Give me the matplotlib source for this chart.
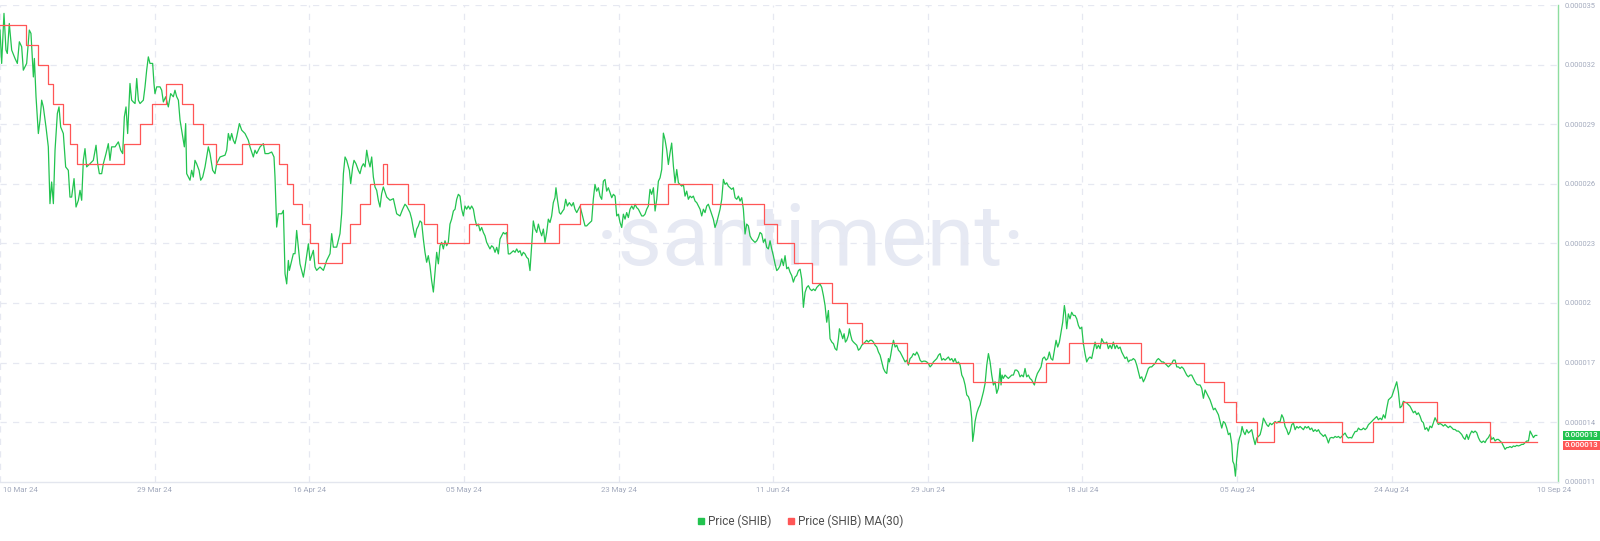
import matplotlib
matplotlib.use("Agg")
import matplotlib.pyplot as plt
from matplotlib.lines import Line2D
import matplotlib.transforms as mtransforms

SCALE = 1e-6  # prices below are in units of 0.000001

# ---- Price (SHIB): day offset from 10 Mar 24, price (x 1e-6) ----
days = [
 0.00,0.20,0.48,0.72,0.88,1.12,1.41,1.81,2.09,2.33,2.61,2.81,3.21,3.53,3.73,4.02,4.14,4.34,4.62,4.82,
 5.02,5.22,5.54,5.82,6.02,6.22,6.43,6.63,6.91,7.11,7.31,7.63,7.91,8.23,8.43,8.63,8.92,9.16,9.44,9.64,
 9.84,10.04,10.24,10.44,10.84,11.24,11.57,11.77,11.97,12.25,12.45,12.77,13.05,13.25,13.45,13.86,14.26,14.54,14.78,14.98,
 15.18,15.38,15.66,15.86,16.06,16.27,16.47,16.67,16.87,17.27,17.47,17.67,17.87,18.07,18.39,18.55,18.67,18.88,19.28,19.48,
 19.68,19.96,20.28,20.56,20.88,21.08,21.29,21.49,21.69,22.01,22.21,22.37,22.49,22.69,22.89,23.09,23.29,23.49,23.69,23.98,
 24.18,24.42,24.70,24.90,25.10,25.30,25.62,25.90,26.10,26.51,27.11,27.31,27.51,27.71,27.91,28.11,28.31,28.51,28.84,29.12,
 29.52,29.92,30.12,30.52,30.72,30.92,31.33,31.73,31.93,32.33,32.73,33.01,33.13,33.25,33.33,33.53,33.94,34.14,34.34,34.54,
 34.74,34.86,35.34,35.54,35.74,35.94,36.14,36.55,36.75,37.15,37.35,37.75,37.95,38.15,38.55,38.96,39.36,39.76,39.96,40.16,
 40.56,40.96,41.16,41.37,41.57,41.77,42.09,42.25,42.49,42.65,42.89,43.17,43.37,43.57,43.78,43.98,44.18,44.38,44.58,44.78,
 44.98,45.18,45.38,45.58,45.78,45.98,46.18,46.59,46.99,47.39,47.79,
 48.19,48.51,48.79,48.99,49.19,49.39,49.60,49.80,50.00,50.20,50.40,50.60,50.80,51.00,51.20,51.40,51.60,51.80,52.00,52.21,
 52.41,52.61,52.81,53.01,53.21,53.41,53.61,53.81,54.01,54.21,54.41,54.62,54.82,55.02,55.22,55.42,55.62,55.82,56.02,56.22,
 56.42,56.62,56.82,57.03,57.23,57.43,57.63,57.83,58.03,58.23,58.43,58.63,58.83,59.03,59.23,59.44,59.64,59.84,60.04,60.24,
 60.44,60.64,60.84,61.04,61.24,61.44,61.65,61.85,62.05,62.25,62.45,62.65,62.85,63.05,63.25,63.45,63.65,63.85,64.05,64.25,
 64.46,64.66,64.86,65.06,65.26,65.46,65.66,65.86,66.06,66.26,66.46,66.66,66.86,66.98,67.15,67.39,67.55,67.79,67.95,68.15,
 68.35,68.59,68.87,69.07,69.27,69.48,69.68,69.88,70.08,70.28,70.48,70.68,70.88,71.08,71.28,71.48,71.68,71.88,72.09,
 72.29,72.49,72.69,72.89,73.09,73.29,73.49,73.70,73.90,74.10,74.30,74.50,74.70,74.90,75.10,75.30,75.50,75.70,75.90,76.11,
 76.31,76.51,76.71,76.91,77.11,77.31,77.51,77.71,77.91,78.11,78.31,78.51,78.72,78.92,79.12,79.32,79.52,79.72,79.92,80.12,
 80.32,80.52,80.72,80.92,81.13,81.33,81.53,81.73,81.93,82.13,82.33,82.53,82.73,82.93,83.13,83.33,83.53,83.74,83.94,84.14,
 84.34,84.54,84.74,84.94,85.14,85.34,85.54,85.74,85.94,86.14,86.35,86.55,86.75,86.95,87.15,87.35,87.55,87.75,87.95,88.15,
 88.35,88.56,88.76,88.96,89.16,89.36,89.56,89.76,89.96,90.16,90.36,90.56,90.76,90.96,91.17,91.37,91.57,91.77,91.97,92.17,
 92.37,92.57,92.77,92.97,93.17,93.37,93.58,93.78,93.98,94.18,94.38,94.58,94.78,94.98,95.18,95.38,95.58,95.78,95.98,96.19,
 96.39,96.59,96.79,96.99,97.19,97.39,97.59,97.80,98.00,98.20,98.40,98.60,98.80,99.00,99.20,99.40,99.60,99.80,100.00,100.21,
 100.41,100.61,100.81,101.01,101.13,101.29,101.53,101.69,101.85,102.01,102.21,102.33,102.49,102.65,102.82,103.02,103.22,103.42,103.62,103.82,
 104.02,104.22,104.42,104.62,104.82,105.02,105.23,105.43,105.63,105.83,106.03,106.23,106.43,106.63,106.83,107.03,107.15,107.31,107.47,107.64,
 107.84,108.04,108.24,108.44,108.64,108.84,109.04,109.24,109.44,109.64,109.84,110.04,110.25,110.45,110.65,110.85,111.05,111.25,111.45,111.65,
 111.85,112.05,112.25,112.45,112.66,112.86,113.06,113.26,113.46,113.66,113.86,114.06,114.26,114.46,114.66,114.86,115.06,115.27,115.47,115.67,
 115.87,116.07,116.27,116.47,116.67,116.87,117.07,117.19,117.35,117.47,117.68,117.88,118.08,118.28,118.48,118.68,118.88,119.08,119.28,119.48,
 119.68,119.88,120.08,120.28,
 120.48,120.60,120.72,120.88,121.08,121.28,121.48,121.68,121.89,122.09,122.29,122.49,122.69,122.89,123.09,123.29,123.49,123.69,123.89,124.09,
 124.30,124.50,124.62,124.78,124.98,125.22,125.42,125.62,125.82,126.02,126.22,126.42,126.62,126.83,127.03,127.23,127.43,127.63,127.83,128.03,
 128.23,128.35,128.51,128.71,128.91,129.11,129.32,129.52,129.72,129.92,130.12,130.32,130.52,130.72,130.92,131.12,131.32,131.52,131.73,131.93,
 132.13,132.33,132.53,132.73,132.93,133.13,133.33,133.53,133.73,133.93,134.13,134.34,134.54,134.74,134.94,135.14,135.34,135.54,135.74,135.94,
 136.14,136.34,136.54,136.75,136.95,137.15,137.35,137.55,137.75,137.95,138.15,138.35,138.55,138.75,138.95,139.16,139.36,139.56,139.76,139.96,
 140.16,140.36,140.56,140.76,140.96,141.16,141.36,141.57,141.77,141.97,142.17,142.37,142.57,142.77,142.97,143.17,143.37,143.57,143.77,143.97,
 144.18,144.38,
 144.58,144.78,144.98,145.18,145.38,145.58,145.78,145.99,146.19,146.39,146.59,146.79,146.99,147.19,147.39,147.59,147.79,147.99,148.19,148.40,
 148.52,148.68,148.84,149.00,149.16,149.32,149.48,149.64,149.80,150.00,150.20,150.40,150.60,150.80,151.01,151.21,151.41,151.61,151.81,152.01,
 152.21,152.41,152.61,152.81,153.01,153.21,153.41,153.62,153.82,154.02,154.22,154.42,154.62,154.82,155.02,155.22,155.42,155.62,155.82,156.03,
 156.23,156.43,156.63,156.83,157.03,157.23,157.43,157.63,157.83,158.03,158.23,158.44,158.64,158.84,159.04,159.24,159.44,159.64,159.84,160.04,
 160.24,160.44,160.64,160.85,161.05,161.25,161.45,161.65,161.85,162.05,162.25,162.45,162.65,162.85,163.05,163.26,163.46,163.66,163.86,164.06,
 164.26,164.46,164.66,164.86,165.06,165.26,165.46,165.66,165.86,166.06,166.27,166.47,166.67,166.87,167.07,167.27,167.47,167.67,167.87,168.07,
 168.27,168.47,
 168.67,168.87,169.07,169.27,169.47,169.67,169.87,170.08,170.28,170.48,170.68,170.88,171.08,171.28,171.48,171.68,171.88,172.08,172.28,172.49,
 172.69,172.89,173.09,173.29,173.49,173.69,173.89,174.09,174.29,174.49,174.69,174.90,175.10,175.30,175.50,175.70,175.90,176.10,176.30,176.50,
 176.70,176.90,177.10,177.31,177.51,177.71,177.91,178.11,178.31,178.51,178.71,178.91,179.11,179.31,179.51,179.71,179.92,180.12,180.32,180.52,
 180.72,180.92,181.12,181.32,181.52,181.72,181.92,182.12,182.33,182.53,182.73,182.93,183.13,183.33,183.53,183.73,183.94,184.14,184.34,184.54,
 184.74,184.94,185.14,
]
price = [
 33.74,32.06,34.58,32.73,32.56,34.07,32.73,32.31,32.06,33.15,32.90,31.72,32.06,33.74,33.57,31.38,32.31,30.38,28.53,29.20,
 30.21,29.87,28.86,27.86,25.00,26.09,25.00,27.69,29.54,29.87,28.86,28.53,26.85,26.68,25.33,25.33,26.26,24.83,25.17,25.67,
 25.17,27.18,27.77,26.85,27.01,27.18,27.94,27.01,26.51,26.51,27.01,27.52,28.02,27.18,27.86,27.86,28.11,27.69,27.52,29.37,
 29.87,28.53,31.05,30.21,30.12,30.04,31.30,30.21,30.04,30.21,30.88,31.72,32.39,32.06,32.06,31.05,30.54,30.88,30.88,30.71,
 30.12,30.38,29.87,30.54,30.38,30.71,30.38,30.21,29.20,28.36,27.86,29.03,26.51,26.34,26.18,26.68,26.34,27.18,27.01,26.68,
 26.18,26.34,26.85,27.35,27.86,27.52,26.68,26.51,27.01,27.35,27.44,27.69,28.53,28.19,28.53,28.19,28.02,28.36,29.03,28.70,
 28.53,28.19,27.86,27.35,27.69,27.52,27.86,28.02,27.52,27.52,27.60,27.35,26.34,24.83,23.82,24.49,24.49,24.66,21.47,20.96,
 22.14,21.64,22.48,22.48,23.65,22.81,21.97,21.30,21.81,22.98,22.14,22.65,21.81,21.64,21.81,21.64,22.14,22.48,23.49,22.81,
 22.81,23.49,24.49,26.51,27.35,27.18,26.68,26.01,26.85,27.18,27.01,26.68,26.51,26.85,27.01,26.85,27.69,27.18,26.85,27.35,
 26.34,25.84,25.67,25.17,24.83,25.50,25.84,25.33,25.17,25.25,24.49,
 24.38,24.72,24.97,24.88,24.72,24.55,24.22,23.72,23.30,23.72,23.88,24.13,24.05,23.22,22.55,22.05,22.38,21.88,21.13,20.55,
 21.55,22.55,21.97,22.88,23.05,22.72,23.13,22.88,23.05,23.97,24.22,24.63,24.72,25.22,25.47,25.38,24.72,24.38,24.88,24.72,
 24.88,24.72,24.88,24.72,24.22,23.88,23.97,23.63,23.80,23.55,23.38,23.05,22.88,22.72,22.88,22.80,22.55,22.80,22.47,23.22,
 23.38,23.55,23.47,23.55,22.47,22.47,22.55,22.63,22.55,22.72,22.55,22.63,22.38,22.55,22.47,22.30,22.22,21.63,22.88,24.13,
 23.72,23.55,23.97,23.63,23.38,23.72,23.05,23.55,24.22,24.05,24.38,25.05,25.30,25.80,25.22,24.55,24.47,24.63,24.72,25.22,
 24.88,25.05,24.88,25.05,24.72,24.55,24.72,24.88,24.55,24.22,23.88,23.88,23.97,24.05,24.13,25.22,25.97,25.63,25.80,
 25.38,25.22,26.13,26.22,25.63,25.80,25.55,25.30,25.47,25.38,24.38,24.47,24.05,23.80,24.47,24.22,24.55,24.30,24.72,24.88,
 24.72,24.97,24.80,24.72,24.55,24.38,24.38,24.47,24.72,24.88,25.72,25.47,25.80,24.63,25.22,26.13,26.30,26.72,28.55,28.22,
 27.72,26.97,27.55,28.05,26.88,26.05,26.72,26.05,25.97,25.88,25.97,25.38,25.63,25.22,25.38,25.30,25.38,25.13,25.05,24.88,
 24.72,24.38,24.72,24.55,24.88,24.97,24.72,24.47,24.22,23.80,24.05,24.38,24.72,25.22,26.22,25.97,26.05,25.88,25.80,25.72,
 25.80,25.30,25.22,25.38,25.13,25.30,24.72,23.47,23.97,23.88,23.38,23.22,23.13,23.05,23.13,23.30,23.55,23.47,23.05,23.22,
 22.80,22.72,23.13,22.72,22.38,21.97,21.63,21.72,21.88,22.22,21.88,22.38,21.72,21.80,21.55,21.38,21.05,21.30,21.38,21.63,
 21.70,21.20,19.78,20.53,20.78,20.87,20.70,20.62,20.70,20.62,20.78,20.87,20.95,20.78,20.37,19.87,19.03,19.62,18.20,18.03,
 17.95,17.70,17.62,18.20,18.70,18.53,18.20,18.45,18.03,18.12,18.37,18.70,18.37,18.12,18.03,17.95,17.87,17.62,17.70,17.87,
 17.95,18.03,18.12,18.03,18.12,18.12,18.03,17.87,17.78,17.53,17.37,17.03,16.70,16.53,16.45,17.20,17.03,17.37,17.78,18.12,
 17.78,17.87,17.62,17.53,17.37,17.20,17.03,17.12,16.87,17.20,17.28,17.45,17.37,17.53,17.37,17.12,17.03,17.07,17.07,17.03,
 16.95,16.78,16.87,17.03,17.12,17.20,17.37,17.45,17.12,17.20,17.12,17.20,17.28,17.12,17.20,17.03,17.20,16.95,17.03,16.87,
 16.37,16.20,15.87,15.37,15.28,15.03,14.20,13.03,13.53,14.03,14.45,14.70,14.87,15.20,15.53,15.95,16.87,17.45,17.03,16.37,
 15.87,16.03,15.45,15.70,
 16.70,15.87,16.37,16.20,16.37,16.28,16.20,16.28,16.37,16.37,16.62,16.62,16.53,16.28,16.37,16.28,16.70,16.28,16.37,16.20,
 16.12,15.95,15.87,16.20,16.45,16.62,16.78,17.20,17.28,17.12,17.20,17.53,17.20,17.12,17.62,18.12,17.78,18.03,18.53,19.03,
 19.87,19.53,18.70,19.45,19.20,19.53,19.37,19.37,19.20,18.87,18.70,18.78,17.95,17.45,17.03,17.20,17.28,17.20,17.62,18.03,
 17.70,17.87,17.70,18.20,18.03,17.95,18.03,17.70,17.87,17.70,18.03,17.70,17.87,17.70,17.78,17.53,17.37,17.20,17.28,17.03,
 17.12,17.12,17.20,17.12,16.87,16.53,16.20,16.28,16.03,16.20,16.45,16.70,16.78,16.78,16.87,16.95,17.12,17.20,17.12,17.03,
 17.03,16.95,16.87,16.78,16.87,16.95,17.12,17.12,16.78,16.78,16.70,16.78,16.70,16.53,16.37,16.28,16.37,16.37,16.20,16.03,
 15.90,15.87,
 15.87,15.70,15.20,15.62,15.45,15.28,15.12,14.87,14.62,14.70,14.53,14.37,14.03,13.70,14.03,13.95,13.70,13.37,13.45,12.87,
 12.03,11.87,11.28,12.20,12.87,13.20,13.37,13.78,13.53,13.37,13.62,13.45,13.53,13.62,13.20,12.87,13.20,13.28,13.37,13.70,
 14.20,14.03,13.87,13.78,13.95,13.87,13.95,14.03,13.95,14.03,14.03,14.37,14.20,13.78,13.62,13.37,13.53,13.87,13.95,13.62,
 13.78,13.70,13.78,13.70,13.62,13.78,13.70,13.78,13.62,13.70,13.53,13.62,13.53,13.62,13.45,13.37,13.28,13.37,13.20,12.95,
 13.20,13.23,13.20,13.28,13.23,13.28,13.20,13.28,13.37,13.45,13.28,13.20,13.23,13.20,13.37,13.53,13.53,13.70,13.62,13.62,
 13.70,13.62,13.70,13.87,13.95,14.03,14.12,14.20,14.28,14.12,14.20,14.12,14.37,14.20,14.70,15.12,15.20,15.28,15.53,15.78,
 16.03,15.53,
 14.72,14.80,15.05,15.00,14.97,14.88,14.80,14.63,14.47,14.55,14.38,14.47,14.30,14.05,13.97,13.63,13.72,13.55,13.80,13.72,
 13.97,14.22,14.05,13.88,13.93,13.88,13.80,13.88,13.80,13.72,13.80,13.72,13.63,13.63,13.55,13.55,13.47,13.38,13.22,13.13,
 13.38,13.13,13.38,13.55,13.47,13.55,13.47,13.22,13.05,12.97,13.05,12.97,13.13,13.22,13.38,13.13,13.22,13.05,13.13,13.13,
 13.05,12.97,12.80,12.63,12.72,12.72,12.77,12.72,12.80,12.77,12.83,12.80,12.83,12.88,12.88,12.97,13.05,13.05,13.55,13.38,
 13.22,13.33,13.33,
]

# ---- Price (SHIB) MA(30): step start day and level (x 1e-6) ----
ma_days = [0, 3.13, 4.62, 5.82, 6.43, 7.63, 8.43, 9.32, 14.98, 16.87, 18.27, 19.96, 21.89, 23.21, 24.50,
           26.02, 29.12, 33.65, 34.54, 35.34, 36.35, 37.35, 38.35, 41.16, 42.17, 43.37, 44.58, 46.18,
           46.59, 49.19, 51.08, 52.69, 56.50, 61.12, 67.39, 69.88, 80.52, 85.74, 92.09, 93.57, 95.66,
           97.80, 100.21, 102.01, 103.82, 109.32, 117.27, 125.98, 128.79, 137.43, 145.06, 147.47,
           148.92, 151.41, 153.50, 161.65, 165.46, 168.99, 173.17, 179.51]
ma_vals = [34, 33, 32, 31, 30, 29, 28, 27, 28, 29, 30, 31, 30, 29, 28,
           27, 28, 27, 26, 25, 24, 23, 22, 23, 24, 25, 26, 27,
           26, 25, 24, 23, 24, 23, 24, 25, 26, 25, 24, 23, 22,
           21, 20, 19, 18, 17, 16, 17, 18, 17, 16, 15,
           14, 13, 14, 13, 14, 15, 14, 13]
ma_end = 185.14

ytick_vals = [11, 14, 17, 20, 23, 26, 29, 32, 35]
xtick_labels = ["10 Mar 24", "29 Mar 24", "16 Apr 24", "05 May 24", "23 May 24",
                "11 Jun 24", "29 Jun 24", "18 Jul 24", "05 Aug 24", "24 Aug 24"]
last_xlabel = "10 Sep 24"
xtick_step = 18.63
x_max = 187.7

legend_labels = ["Price (SHIB)", "Price (SHIB) MA(30)"]
GREEN = "#22C34F"
RED = "#FF5656"
GRID = "#E6E8F1"
TICKC = "#A3AABD"

plt.rcParams['font.family'] = ['Roboto', 'DejaVu Sans']

fig = plt.figure(figsize=(16, 5.41), dpi=100)
ax = fig.add_axes([0.0, 0.1096, 0.97375, 0.8811])
ax.set_xlim(0, x_max)
ax.set_ylim(11, 35)

# watermark
ax.text(0.5205, 0.4546, "\u00b7santiment\u00b7", transform=ax.transAxes, ha='center',
        va='baseline', fontsize=62, color='#E6E9F3', fontweight='normal', zorder=0)

# grid
xticks = [k * xtick_step for k in range(len(xtick_labels))]
for yv in ytick_vals[1:]:
    ax.axhline(yv, color=GRID, lw=0.9, ls=(0, (5, 5)), zorder=1)
for xv in xticks:
    ax.axvline(xv, color=GRID, lw=0.9, ls=(0, (5, 5)), zorder=1)

# series
ax.plot(days, price, color=GREEN, lw=0.9, zorder=3, solid_joinstyle='round')
ax.step(ma_days + [ma_end], ma_vals + [ma_vals[-1]], where='post', color=RED, lw=0.9, zorder=4)

# axes styling
for s in ['top', 'left']:
    ax.spines[s].set_visible(False)
ax.spines['bottom'].set_color('#E3E6EE')
ax.spines['bottom'].set_linewidth(1.0)
ax.spines['right'].set_color('#8EDD9F')
ax.spines['right'].set_linewidth(1.0)

ax.yaxis.tick_right()
ax.set_yticks(ytick_vals)
ax.set_yticklabels([f"{v * SCALE:.6f}".rstrip('0') for v in ytick_vals])
ax.tick_params(axis='y', length=0, pad=5, labelsize=5.4, labelcolor=TICKC)

ax.set_xticks(xticks + [x_max])
ax.set_xticklabels(xtick_labels + [last_xlabel])
ax.tick_params(axis='x', length=0, pad=4, labelsize=5.6, labelcolor=TICKC)
lbls = ax.get_xticklabels()
lbls[0].set_ha('left')
lbls[0].set_transform(lbls[0].get_transform() + mtransforms.ScaledTranslation(3 / 100, 0, fig.dpi_scale_trans))
lbls[-1].set_transform(lbls[-1].get_transform() + mtransforms.ScaledTranslation(-4 / 100, 0, fig.dpi_scale_trans))

# last value tags
p_last = price[-1]
m_last = ma_vals[-1]
m_tag = min(m_last, p_last - 0.5)
trans = mtransforms.blended_transform_factory(ax.transAxes, ax.transData)
for val, shown, col in [(p_last, p_last, GREEN), (m_tag, m_last, RED)]:
    ax.annotate(f"{shown * SCALE:.6f}", xy=(1.0, val), xycoords=trans,
                xytext=(4.5, 0), textcoords='offset points', ha='left', va='center',
                fontsize=5.8, color='white', fontweight='medium', annotation_clip=False,
                bbox=dict(boxstyle='square,pad=0.2', fc=col, ec='none'))

# legend
handles = [Line2D([], [], marker='s', ls='none', color=GREEN, markersize=5),
           Line2D([], [], marker='s', ls='none', color=RED, markersize=5)]
fig.legend(handles, legend_labels, loc='center', bbox_to_anchor=(0.5, 0.037), ncol=2,
           frameon=False, fontsize=8.5, labelcolor='#4D4D4D', handletextpad=0.2,
           columnspacing=1.3, handlelength=0.8)

fig.savefig("out.png", dpi=100)
